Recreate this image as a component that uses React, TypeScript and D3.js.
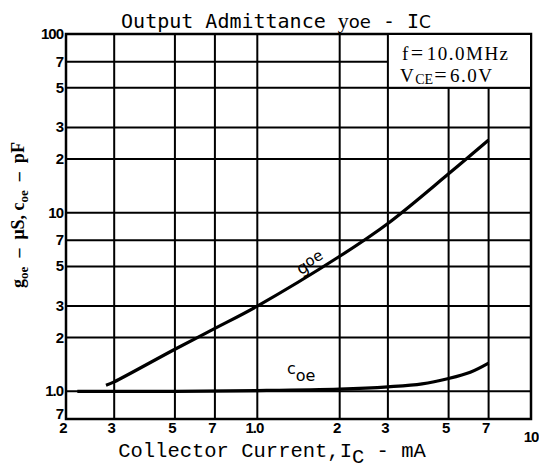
import React from "react";
import * as d3 from "d3";

const title = "Output Admittance ";
const xLabel = "Collector Current,I";
const xTickVals = [0.2, 0.3, 0.5, 0.7, 1.0, 2, 3, 5, 7, 10];
const xTickLabels = ["2", "3", "5", "7", "1.0", "2", "3", "5", "7", "10"];
const yTickVals = [0.7, 1, 2, 3, 5, 7, 10, 20, 30, 50, 70, 100];
const yTickLabels = ["7", "1.0", "2", "3", "5", "7", "10", "2", "3", "5", "7", "100"];

const goeI = [0.28, 0.3, 0.5, 0.7, 1.0, 2, 3, 5, 7];
const goeV = [1.08, 1.13, 1.72, 2.25, 3.0, 5.7, 8.7, 16.5, 25.5];
const coeI = [0.22, 0.5, 1.0, 2, 3, 4, 5, 6, 7];
const coeV = [1.0, 1.0, 1.01, 1.03, 1.06, 1.1, 1.18, 1.28, 1.44];

const W = 539, H = 470;
const L = 66, R = 531, T = 34, B = 419;

export default function App() {
  const x = d3.scaleLog().domain([0.2, 10]).range([L, R]);
  const y = d3.scaleLog().domain([0.7, 100]).range([B, T]);
  const mk = (xs: number[], ys: number[]) =>
    d3.line<[number, number]>().x(d => x(d[0])).y(d => y(d[1])).curve(d3.curveCatmullRom.alpha(0.5))(xs.map((v, i) => [v, ys[i]])) || "";
  const goePath = mk(goeI, goeV);
  const coePath = mk(coeI, coeV);

  const boxX0 = x(3), boxY1 = y(50);
  const innerX = xTickVals.slice(1, -1);
  const innerY = yTickVals.slice(1, -1);

  const lx = x(1.6), ly = y(4.9);
  const ang = (Math.atan2(y(5.7) - y(3.0), x(2) - x(1)) * 180) / Math.PI;

  const pre = { whiteSpace: "pre" as const };

  return (
    <svg width={W} height={H} style={{ position: "absolute", left: 0, top: 0, background: "#fff" }}>
      <rect x={0} y={0} width={W} height={H} fill="#fff" />
      {/* title */}
      <text x={276} y={28} textAnchor="middle" fontFamily="DejaVu Sans Mono" fontSize={20} fill="#000" style={pre}>
        {title}
        <tspan fontFamily="Liberation Serif" fontSize={22}>y</tspan>
        <tspan fontFamily="DejaVu Sans" fontSize={18}>oe</tspan>
        {" - I"}
        <tspan fontFamily="DejaVu Sans" fontSize={17}>C</tspan>
      </text>

      {/* grid */}
      {innerX.map((v, i) => (
        <line key={"gx" + i} x1={x(v)} x2={x(v)} y1={B} y2={v >= 3 ? boxY1 : T} stroke="#000" strokeWidth={2} />
      ))}
      {innerY.map((v, i) => (
        <line key={"gy" + i} x1={L} x2={v > 50 ? boxX0 : R} y1={y(v)} y2={y(v)} stroke="#000" strokeWidth={2} />
      ))}
      <rect x={L} y={T} width={R - L} height={B - T} fill="none" stroke="#000" strokeWidth={2.5} />
      {/* legend box */}
      <rect x={boxX0} y={T} width={R - boxX0} height={boxY1 - T} fill="#fff" stroke="#000" strokeWidth={2} />
      <text x={402} y={60} fontFamily="Liberation Serif" fontSize={19} fill="#000" letterSpacing={1.5} style={pre}>
        {"f"}<tspan fontSize={22} dx={1}>=</tspan><tspan dx={2}>10.0MHz</tspan>
      </text>
      <text x={400} y={82} fontFamily="Liberation Serif" fontSize={19} fill="#000" letterSpacing={1.5} style={pre}>
        V<tspan fontSize={14} dy={2} letterSpacing={0}>CE</tspan><tspan dy={-2} fontSize={22} dx={1}>=</tspan><tspan dx={2}>6.0V</tspan>
      </text>

      {/* curves */}
      <path d={goePath} fill="none" stroke="#000" strokeWidth={3.2} />
      <path d={coePath} fill="none" stroke="#000" strokeWidth={3.2} />

      {/* curve labels */}
      <g transform={`translate(${lx},${ly}) rotate(${ang})`}>
        <text x={0} y={0} textAnchor="middle" fontFamily="DejaVu Sans" fontSize={17} fill="#000">
          g<tspan fontSize={15} dy={-3}>oe</tspan>
        </text>
      </g>
      <text x={287} y={380} fontFamily="DejaVu Sans" fontSize={16} fill="#000">
        <tspan dy={-6}>c</tspan><tspan dy={7}>oe</tspan>
      </text>

      {/* y tick labels */}
      {yTickVals.map((v, i) => (
        <text key={"yt" + i} x={63} y={y(v) + (v === 0.7 ? 0 : 5)} textAnchor="end" fontFamily="Liberation Sans" fontWeight="bold" fontSize={15} fill="#000" letterSpacing={-1}>
          {yTickLabels[i]}
        </text>
      ))}
      {/* x tick labels */}
      {xTickVals.map((v, i) => (
        <text key={"xt" + i} x={x(v) - (v === 10 ? 0 : 3)} y={v === 10 ? 442 : 433} textAnchor="middle" fontFamily="Liberation Sans" fontWeight="bold" fontSize={15} fill="#000" letterSpacing={-1}>
          {xTickLabels[i]}
        </text>
      ))}

      {/* x axis title */}
      <text x={272} y={457} textAnchor="middle" fontFamily="Liberation Mono" fontSize={20.5} fill="#000" style={pre}>
        {xLabel}
        <tspan dy={6}>C</tspan>
        <tspan dy={-6}>{" - mA"}</tspan>
      </text>

      {/* y axis title */}
      <g transform={`translate(24,215) rotate(-90)`}>
        <text x={0} y={0} textAnchor="middle" fontFamily="Liberation Serif" fontWeight="bold" fontSize={18} fill="#000" style={pre}>
          g<tspan fontSize={13} dy={4}>oe</tspan>
          <tspan dy={-4}>{"  –  μS, c"}</tspan>
          <tspan fontSize={13} dy={4}>oe</tspan>
          <tspan dy={-4}>{"  –  pF"}</tspan>
        </text>
      </g>
    </svg>
  );
}
